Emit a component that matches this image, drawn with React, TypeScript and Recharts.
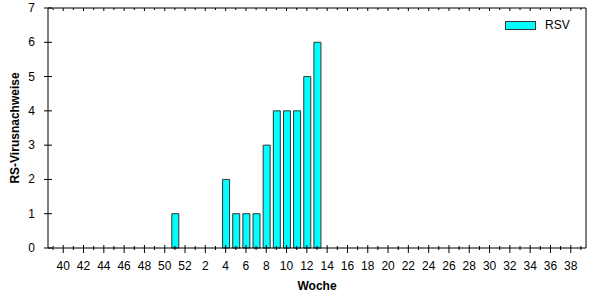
import { BarChart, Bar, XAxis, YAxis, Legend } from "recharts";

/* Kalenderwochen: Saison 39 .. 39 */
const weeks = [
  39, 40, 41, 42, 43, 44, 45, 46, 47, 48, 49, 50, 51, 52,
  1, 2, 3, 4, 5, 6, 7, 8, 9, 10, 11, 12, 13, 14, 15, 16, 17, 18, 19, 20,
  21, 22, 23, 24, 25, 26, 27, 28, 29, 30, 31, 32, 33, 34, 35, 36, 37, 38, 39,
];

/* RSV-Nachweise pro Woche (null = noch keine Daten) */
const rsv = [
  0, 0, 0, 0, 0, 0, 0, 0, 0, 0, 0, 0, 1, 0,
  0, 0, 0, 2, 1, 1, 1, 3, 4, 4, 4, 5, 6, null, null, null, null, null, null, null,
  null, null, null, null, null, null, null, null, null, null, null, null, null, null, null, null, null, null, null,
];

const yTicks = [0, 1, 2, 3, 4, 5, 6, 7];

const data = weeks.map((w, i) => ({ week: w, rsv: rsv[i] }));

const FONT = "'Liberation Sans', Arial, sans-serif";

const BottomTick = (props: any) => {
  const { x, y, payload } = props;
  const wk = weeks[payload.index];
  const major = wk % 2 === 0;
  return (
    <g>
      <line x1={x} x2={x} y1={y - (major ? 3 : 2)} y2={y + (major ? 5 : 2)} stroke="#000" />
      {major && (
        <text x={x} y={y + 22} textAnchor="middle" fontSize={12} fontFamily={FONT} fill="#000">
          {wk}
        </text>
      )}
    </g>
  );
};

const TopTick = (props: any) => {
  const { x, y, payload } = props;
  const major = weeks[payload.index] % 2 === 0;
  return <line x1={x} x2={x} y1={y} y2={y + (major ? 3 : 2)} stroke="#000" />;
};

const LeftTick = (props: any) => {
  const { x, y, payload } = props;
  return (
    <g>
      <line x1={x - 4} x2={x + 4} y1={y} y2={y} stroke="#000" />
      <text x={x - 13} y={y + 4} textAnchor="end" fontSize={12} fontFamily={FONT} fill="#000">
        {payload.value}
      </text>
    </g>
  );
};

const LegendBox = () => (
  <div style={{ display: "flex", alignItems: "center", fontFamily: FONT, fontSize: 12 }}>
    <span
      style={{
        display: "inline-block",
        width: 29,
        height: 7,
        background: "#00ffff",
        border: "1px solid #333",
      }}
    />
    <span style={{ marginLeft: 9 }}>RSV</span>
  </div>
);

export default function App() {
  return (
    <div style={{ position: "absolute", left: 0, top: 0, background: "#fff" }}>
      <BarChart
        width={602}
        height={300}
        data={data}
        margin={{ top: 7, right: 15, bottom: 0, left: 0 }}
      >
        <XAxis
          dataKey="week"
          xAxisId="bottom"
          height={52}
          interval={0}
          tickSize={0}
          tickMargin={0}
          tickLine={false}
          tick={<BottomTick />}
          axisLine={{ stroke: "#000" }}
          label={{
            content: (p: any) => {
              const vb = p.viewBox;
              return (
                <text
                  x={vb.x + vb.width / 2}
                  y={vb.y + 42}
                  textAnchor="middle"
                  fontSize={12}
                  fontWeight="bold"
                  fontFamily={FONT}
                  fill="#000"
                >
                  Woche
                </text>
              );
            },
          }}
        />
        <XAxis
          dataKey="week"
          xAxisId="top"
          orientation="top"
          height={1}
          interval={0}
          tickSize={0}
          tickMargin={0}
          tickLine={false}
          tick={<TopTick />}
          axisLine={{ stroke: "#000" }}
        />
        <YAxis
          yAxisId="left"
          width={48}
          domain={[0, 7]}
          ticks={yTicks}
          interval={0}
          tickSize={0}
          tickMargin={0}
          tickLine={false}
          tick={<LeftTick />}
          axisLine={{ stroke: "#000" }}
          label={{
            content: () => (
              <text
                x={19}
                y={128}
                transform="rotate(-90 19 128)"
                textAnchor="middle"
                fontSize={12}
                fontWeight="bold"
                fontFamily={FONT}
                fill="#000"
              >
                RS-Virusnachweise
              </text>
            ),
          }}
        />
        <YAxis
          yAxisId="right"
          orientation="right"
          width={1}
          domain={[0, 7]}
          tick={false}
          tickLine={false}
          axisLine={{ stroke: "#000" }}
        />
        <Legend
          layout="vertical"
          align="center"
          verticalAlign="middle"
          wrapperStyle={{ top: 18, left: 505, width: 80 }}
          content={<LegendBox />}
        />
        <Bar
          dataKey="rsv"
          name="RSV"
          xAxisId="bottom"
          yAxisId="left"
          barSize={7}
          fill="#00ffff"
          stroke="#333"
          strokeWidth={1}
          isAnimationActive={false}
        />
      </BarChart>
    </div>
  );
}
